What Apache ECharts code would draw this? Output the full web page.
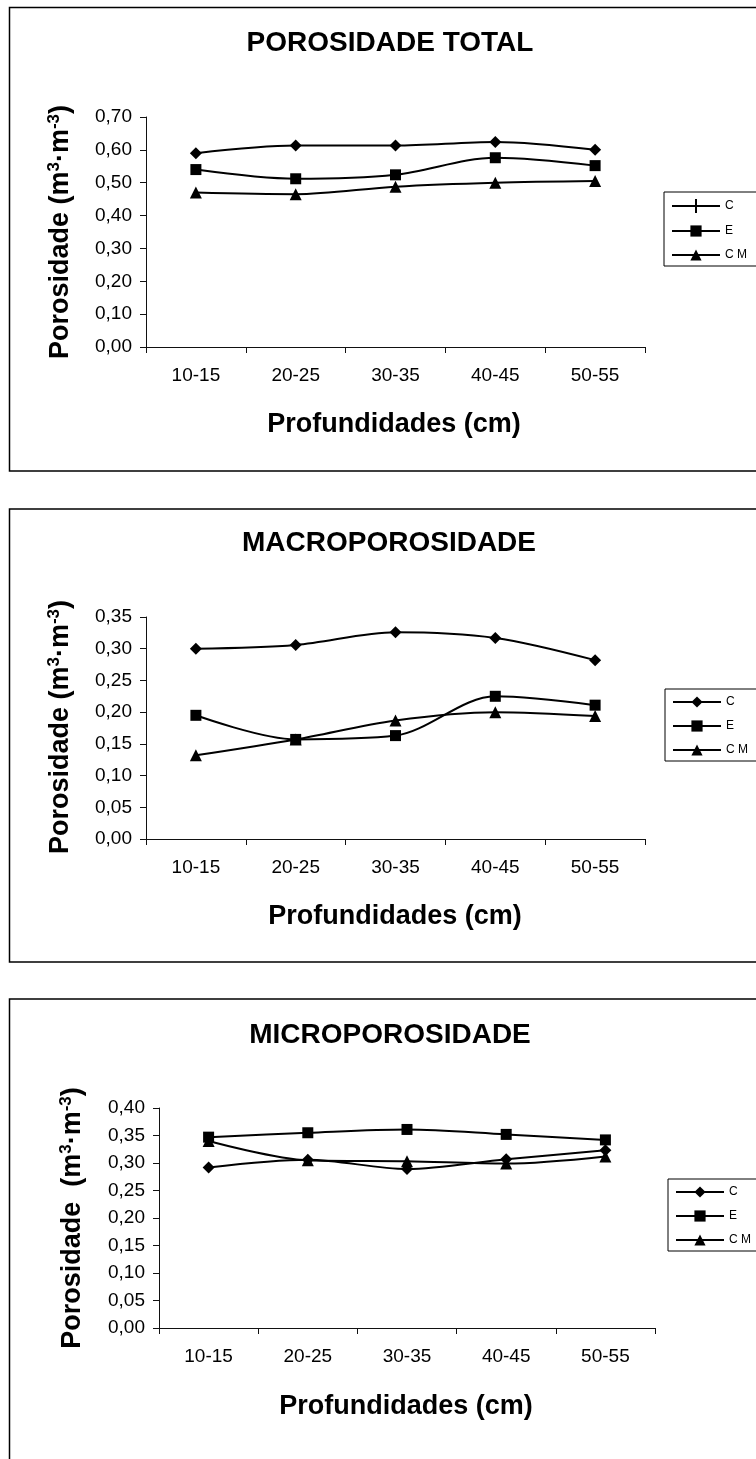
<!DOCTYPE html>
<html>
<head>
<meta charset="utf-8">
<script src="https://cdn.jsdelivr.net/npm/echarts@6/dist/echarts.min.js"></script>
<style>
  html, body { margin: 0; padding: 0; background: #fff; }
  #main { width: 756px; height: 1459px; }
</style>
</head>
<body>
<div id="main"></div>
<script>
// Depth classes on the x axis
const depths = ['10-15', '20-25', '30-35', '40-45', '50-55'];
const seriesNames = ['C', 'E', 'CM'];

// Porosidade total (m3 m-3)
const totalC  = [0.590, 0.613, 0.613, 0.624, 0.600];
const totalE  = [0.540, 0.512, 0.524, 0.576, 0.552];
const totalCM = [0.470, 0.465, 0.488, 0.500, 0.505];

// Macroporosidade (m3 m-3)
const macroC  = [0.300, 0.306, 0.326, 0.317, 0.282];
const macroE  = [0.195, 0.157, 0.163, 0.225, 0.211];
const macroCM = [0.132, 0.157, 0.187, 0.200, 0.194];

// Microporosidade (m3 m-3)
const microC  = [0.292, 0.306, 0.289, 0.307, 0.323];
const microE  = [0.347, 0.355, 0.361, 0.352, 0.342];
const microCM = [0.340, 0.305, 0.303, 0.299, 0.312];

// Y tick labels (decimal comma)
const totalTicks = ['0,00', '0,10', '0,20', '0,30', '0,40', '0,50', '0,60', '0,70'];
const macroTicks = ['0,00', '0,05', '0,10', '0,15', '0,20', '0,25', '0,30', '0,35'];
const microTicks = ['0,00', '0,05', '0,10', '0,15', '0,20', '0,25', '0,30', '0,35', '0,40'];

const panelTitles = ['POROSIDADE TOTAL', 'MACROPOROSIDADE', 'MICROPOROSIDADE'];
const xTitle = 'Profundidades (cm)';
const yTitleGap = [' ', ' ', '  '];

const FONT = "'Liberation Sans', Arial, sans-serif";

// Panel geometry
const panels = [
  { data: [totalC, totalE, totalCM], ticks: totalTicks, step: 0.10,
    box: [9.5, 7.5, 760, 463.5], grid: [146, 117, 499, 230],
    title: [390, 43], xt: [394, 425], yt: [60, 232], legend: [664, 192] },
  { data: [macroC, macroE, macroCM], ticks: macroTicks, step: 0.05,
    box: [9.5, 509, 760, 453], grid: [146, 617, 499, 222],
    title: [389, 543], xt: [395, 917], yt: [60, 727], legend: [665, 689] },
  { data: [microC, microE, microCM], ticks: microTicks, step: 0.05,
    box: [9.5, 999, 760, 480], grid: [159, 1108, 496, 220],
    title: [390, 1035], xt: [406, 1407], yt: [72, 1218], legend: [668, 1179] }
];

const symbols = ['diamond', 'rect', 'triangle'];
const symbolSizes = [12, 11, 12];

const grids = [], xAxes = [], yAxes = [], series = [], legends = [], graphics = [];

panels.forEach((p, i) => {
  grids.push({ left: p.grid[0], top: p.grid[1], width: p.grid[2], height: p.grid[3], containLabel: false });

  xAxes.push({
    type: 'category', gridIndex: i, data: depths, boundaryGap: true,
    axisLine: { show: true, lineStyle: { color: '#111', width: 1 } },
    axisTick: { show: true, length: 6, alignWithLabel: false, lineStyle: { color: '#111' } },
    axisLabel: { color: '#000', fontSize: 19, fontFamily: FONT, margin: 19 },
    splitLine: { show: false }
  });

  const maxV = Number(((p.ticks.length - 1) * p.step).toFixed(2));
  yAxes.push({
    type: 'value', gridIndex: i, min: 0, max: maxV, interval: p.step,
    axisLine: { show: true, lineStyle: { color: '#111', width: 1 } },
    axisTick: { show: true, length: 6, lineStyle: { color: '#111' } },
    axisLabel: {
      color: '#000', fontSize: 19, fontFamily: FONT, margin: 14,
      formatter: (v) => p.ticks[Math.round(v / p.step)]
    },
    splitLine: { show: false }
  });

  p.data.forEach((vals, k) => {
    series.push({
      name: seriesNames[k], type: 'line', xAxisIndex: i, yAxisIndex: i,
      data: vals, smooth: 0.32,
      symbol: symbols[k], symbolSize: symbolSizes[k],
      itemStyle: { color: '#000' },
      lineStyle: { color: '#000', width: 2 },
      z: 3 + k
    });
  });

  const legendData = seriesNames.map((n) => ({ name: n }));
  if (i === 0) {
    // first legend shows C as a plain line crossed by a short bar
    legendData[0].icon = 'path://M0,6L48,6L48,8L0,8Z M23,0L25,0L25,14L23,14Z';
  }
  legends.push({
    orient: 'vertical', left: p.legend[0], top: p.legend[1],
    data: legendData, itemWidth: 48, itemHeight: 14, itemGap: 12,
    padding: [7, 60, 5, 7],
    borderColor: '#000', borderWidth: 1,
    selectedMode: false,
    textStyle: { color: '#000', fontSize: 12, fontFamily: FONT },
    formatter: (n) => n.split('').join(' ')
  });

  // outer frame
  graphics.push({
    type: 'rect', silent: true, z: 0,
    shape: { x: p.box[0], y: p.box[1], width: p.box[2], height: p.box[3] },
    style: { fill: 'none', stroke: '#000', lineWidth: 1.5 }
  });
  // panel title
  graphics.push({
    type: 'text', silent: true, x: p.title[0], y: p.title[1],
    style: { text: panelTitles[i], font: "bold 28px " + FONT, fill: '#000',
             textAlign: 'center', textVerticalAlign: 'middle', align: 'center', verticalAlign: 'middle' }
  });
  // x axis title
  graphics.push({
    type: 'text', silent: true, x: p.xt[0], y: p.xt[1],
    style: { text: xTitle, font: "bold 27px " + FONT, fill: '#000',
             textAlign: 'center', textVerticalAlign: 'middle', align: 'center', verticalAlign: 'middle' }
  });
  // y axis title with superscript exponents
  graphics.push({
    type: 'text', silent: true, x: p.yt[0], y: p.yt[1], rotation: Math.PI / 2,
    style: {
      text: '{a|Porosidade' + yTitleGap[i] + '(m}{s|3}{a|·m}{s|-3}{a|)}',
      textAlign: 'center', textVerticalAlign: 'middle', align: 'center', verticalAlign: 'middle',
      fill: '#000',
      rich: {
        a: { fontFamily: FONT, fontWeight: 'bold', fontSize: 27, lineHeight: 29, verticalAlign: 'bottom', fill: '#000', color: '#000' },
        s: { fontFamily: FONT, fontWeight: 'bold', fontSize: 17, lineHeight: 17, verticalAlign: 'top', fill: '#000', color: '#000' }
      }
    }
  });
});

const chart = echarts.init(document.getElementById('main'), null, { renderer: 'canvas' });
chart.setOption({
  animation: false,
  backgroundColor: '#fff',
  grid: grids,
  xAxis: xAxes,
  yAxis: yAxes,
  legend: legends,
  series: series,
  graphic: graphics
});
</script>
</body>
</html>
